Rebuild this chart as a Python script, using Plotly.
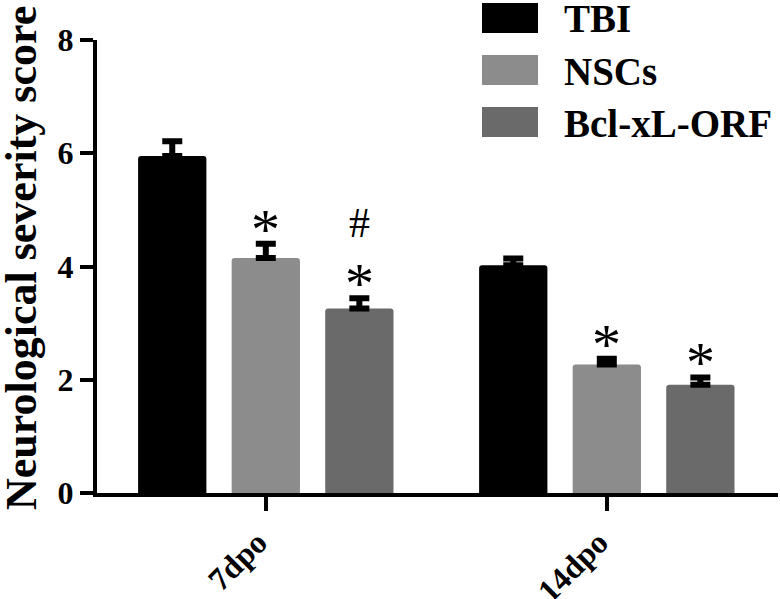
import plotly.graph_objects as go

categories = ["7dpo", "14dpo"]
groups = ["TBI", "NSCs", "Bcl-xL-ORF"]
tbi = [5.95, 4.02]
nscs = [4.15, 2.27]
bcl = [3.26, 1.91]
tbi_err = [0.26, 0.12]
nscs_err = [0.25, 0.10]
bcl_err = [0.18, 0.13]
# significance marks: (group index, category index, label)
marks = [(1, 0, "*"), (2, 0, "*"), (2, 0, "#"), (1, 1, "*"), (2, 1, "*")]

colors = ["#000000", "#8c8c8c", "#6a6a6a"]
values = [tbi, nscs, bcl]
errs = [tbi_err, nscs_err, bcl_err]

FONT = "Liberation Serif"
bargap = 0.177
bargroupgap = 0.27

fig = go.Figure()
xpos = list(range(len(categories)))
for g, name in enumerate(groups):
    fig.add_trace(go.Bar(
        x=xpos, y=values[g], name=name,
        marker=dict(color=colors[g], line=dict(width=0), cornerradius=3),
        error_y=dict(type="data", array=errs[g], arrayminus=[0] * len(categories),
                     symmetric=False, color="#000000", thickness=6, width=10),
        showlegend=False,
    ))

slot = (1 - bargap) / len(groups)
ann = []
for gi, ci, lab in marks:
    xc = ci + (gi - (len(groups) - 1) / 2) * slot
    top = values[gi][ci] + errs[gi][ci]
    if lab == "#":
        ann.append(dict(x=xc, y=top, xref="x", yref="y", text=lab, showarrow=False,
                        yanchor="bottom", yshift=50,
                        font=dict(family=FONT, size=42, color="#000")))
    else:
        ann.append(dict(x=xc, y=top, xref="x", yref="y", text=lab, showarrow=False,
                        yanchor="bottom", yshift=-20,
                        font=dict(family=FONT, size=58, color="#000")))

# frame (screen pixels; body margin removed below)
W, H = 780, 599
PL, PR, PT, PB = 97, 778, 40, 493   # plot area in screen pixels
ml, mr, mt, mb = PL, W - PR, PT, H - PB
pw = PR - PL; ph = PB - PT
def px2x(px): return (px - PL) / pw
def py2y(py): return (PB - py) / ph

# y title
ann.append(dict(x=px2x(21), y=py2y(258), xref="paper", yref="paper", text="<b>Neurological severity score</b>",
                textangle=-90, showarrow=False, xanchor="center", yanchor="middle",
                font=dict(family=FONT, size=44, color="#000")))

# custom legend
shapes = []
L0 = 482; LW = 56; LH = 30
for g, name in enumerate(groups):
    ytop = 3 + g * 52
    shapes.append(dict(type="rect", xref="paper", yref="paper",
                       x0=px2x(L0), x1=px2x(L0 + LW), y0=py2y(ytop + LH), y1=py2y(ytop),
                       fillcolor=colors[g], line=dict(width=0)))
    ann.append(dict(x=px2x(562), y=py2y(ytop + LH / 2 + 1), xref="paper", yref="paper",
                    text="<b>" + name + "</b>", showarrow=False, xanchor="left", yanchor="middle",
                    font=dict(family=FONT, size=39, color="#000")))

fig.update_layout(
    width=W, height=H,
    margin=dict(l=ml, r=mr, t=mt, b=mb, autoexpand=False),
    paper_bgcolor="white", plot_bgcolor="white",
    barmode="group", bargap=bargap, bargroupgap=bargroupgap,
    annotations=ann, shapes=shapes,
    xaxis=dict(range=[-0.495, 1.502], tickmode="array", tickvals=xpos, ticktext=["<b>%s</b>" % c for c in categories],
               tickangle=-45, ticks="outside", ticklen=14, tickwidth=4, tickcolor="#000",
               ticklabelshift=-8,
               showline=True, linecolor="#000", linewidth=4, showgrid=False, zeroline=False,
               automargin=False,
               tickfont=dict(family=FONT, size=32, color="#000")),
    yaxis=dict(range=[0, 8], tickvals=[0, 2, 4, 6, 8], ticktext=["<b>%d</b>" % v for v in [0, 2, 4, 6, 8]],
               ticks="outside", ticklen=13, tickwidth=4, tickcolor="#000",
               showline=True, linecolor="#000", linewidth=4, showgrid=False, zeroline=False,
               automargin=False,
               tickfont=dict(family=FONT, size=32, color="#000")),
    font=dict(family=FONT),
)
fig.write_html("out.html", config={"displayModeBar": False},
               post_script="document.body.style.margin='0';document.body.style.overflow='hidden';")
